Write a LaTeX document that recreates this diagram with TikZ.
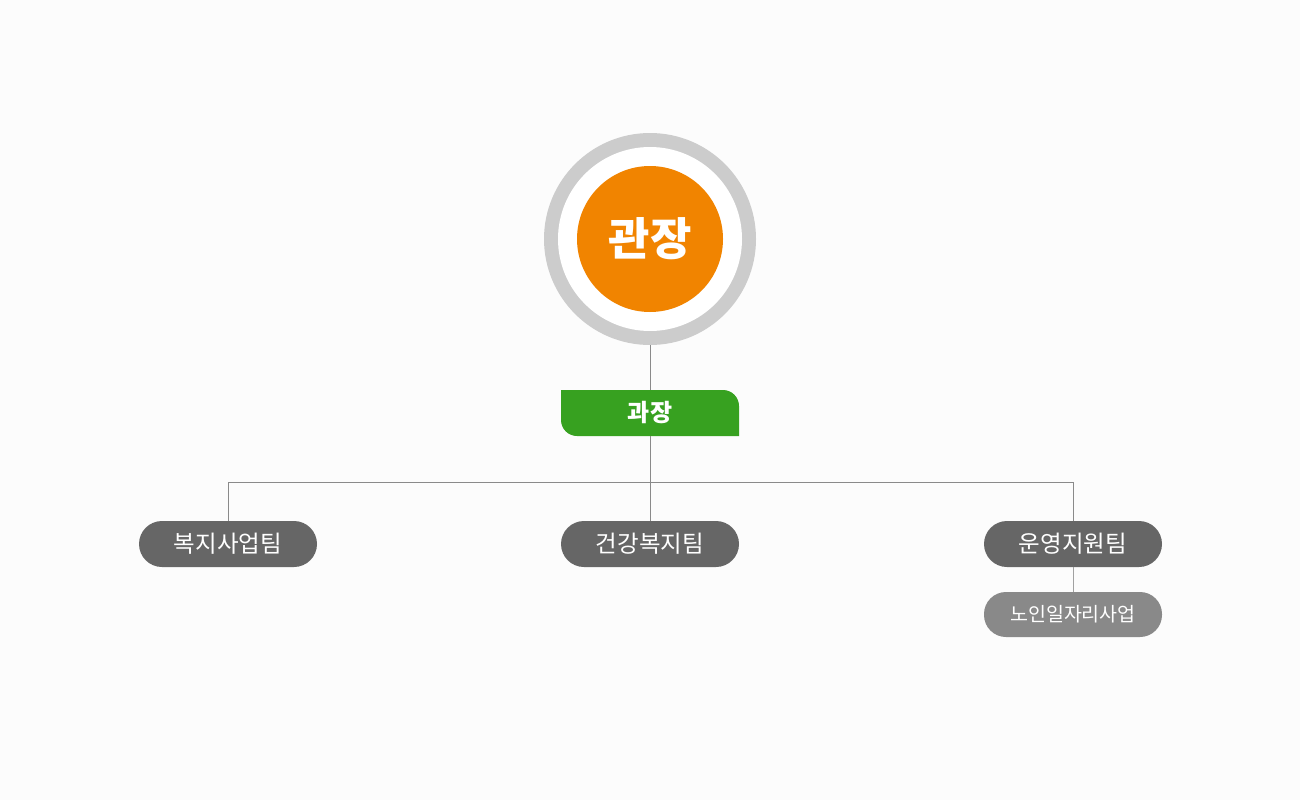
\documentclass[tikz,border=0pt]{standalone}
\usepackage{fontspec}
\setmainfont{Noto Sans CJK KR}
\begin{document}
\begin{tikzpicture}[x=1pt,y=-1pt,
  team/.style={rounded corners=23pt, fill=teamgray, minimum width=178pt, minimum height=46pt, text=white, font=\fontsize{23.5}{24}\selectfont, inner sep=0pt},
  subteam/.style={rounded corners=22pt, fill=subgray, minimum width=178pt, minimum height=45pt, text=white, font=\fontsize{19.5}{20}\selectfont, inner sep=0pt},
  link/.style={draw=linegray, line width=0.9pt}]
\definecolor{bg}{HTML}{FCFCFC}
\definecolor{teamgray}{HTML}{666666}
\definecolor{subgray}{HTML}{898989}
\definecolor{linegray}{HTML}{8A8A8A}
\definecolor{ring}{HTML}{CCCCCC}
\definecolor{orangec}{HTML}{F18400}
\definecolor{greenc}{HTML}{37A120}
\fill[bg] (0,0) rectangle (1300,800);
\useasboundingbox (0,0) rectangle (1300,800);
% circles
\node[circle, fill=ring, minimum size=212pt, inner sep=0pt] (outer) at (650,239) {};
\node[circle, fill=white, minimum size=184pt, inner sep=0pt] at (650,239) {};
\node[circle, fill=orangec, minimum size=146pt, inner sep=0pt, text=white, font=\bfseries\fontsize{45}{46}\selectfont] (chief) at (650,239) {관장};
% green box
\fill[greenc] (561,390) -- (723,390) arc[start angle=270, end angle=360, radius=16] -- (739,436) -- (577,436) arc[start angle=90, end angle=180, radius=16] -- cycle;
\node[minimum width=178pt, minimum height=46pt, inner sep=0pt, text=white, font=\bfseries\fontsize{24}{25}\selectfont] (green) at (650,413) {과장};
% teams
\node[team] (t1) at (228,544) {복지사업팀};
\node[team] (t2) at (650,544) {건강복지팀};
\node[team] (t3) at (1073,544) {운영지원팀};
\node[subteam] (s3) at (1073,614.5) {노인일자리사업};
\coordinate (hl) at (228,482);
\coordinate (hr) at (1073,482);
% connectors
\draw[link] (outer.south) -- (green.north);
\draw[link] (green.south) -- (t2.north);
\draw[link] (t1.north) -- (hl) -- (hr) -- (t3.north);
\draw[link, draw=subgray!80] (t3.south) -- (s3.north);
\end{tikzpicture}
\end{document}
